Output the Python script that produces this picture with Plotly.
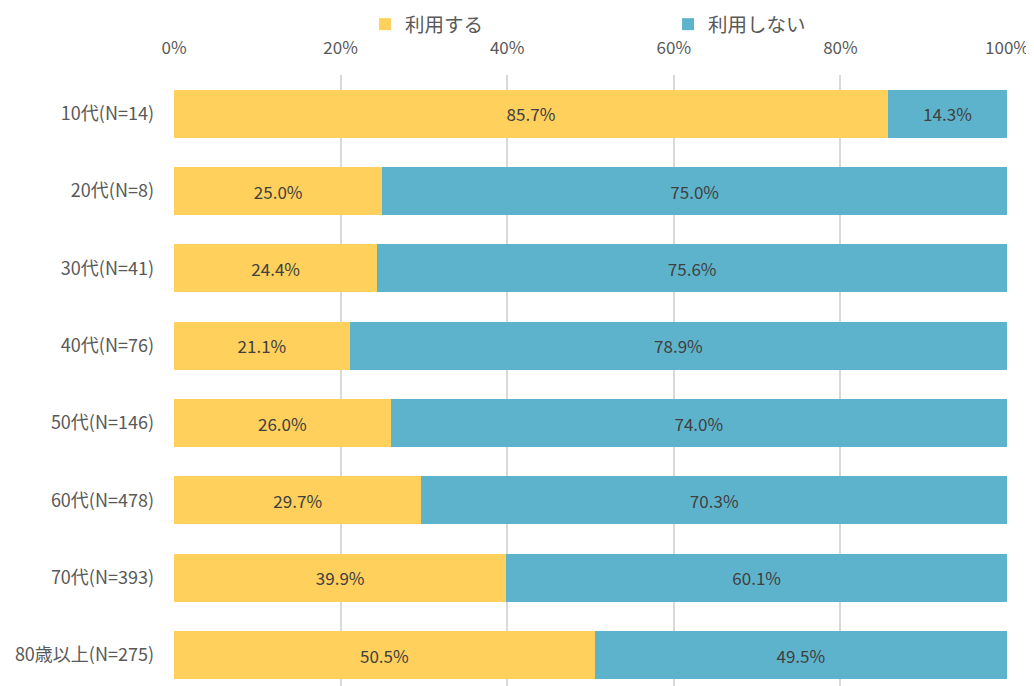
import plotly.graph_objects as go

categories = ["10代(N=14)", "20代(N=8)", "30代(N=41)", "40代(N=76)",
              "50代(N=146)", "60代(N=478)", "70代(N=393)", "80歳以上(N=275)"]
use = [85.7, 25.0, 24.4, 21.1, 26.0, 29.7, 39.9, 50.5]
not_use = [14.3, 75.0, 75.6, 78.9, 74.0, 70.3, 60.1, 49.5]
series_names = ["利用する", "利用しない"]
colors = ["#FFD05C", "#5EB3CC"]
tick_vals = [0, 20, 40, 60, 80, 100]
tick_text = ["0%", "20%", "40%", "60%", "80%", "100%"]

font_family = "Noto Sans CJK JP, Noto Sans, sans-serif"
text_color = "#595959"

fig = go.Figure()
for name, vals, col in zip(series_names, [use, not_use], colors):
    fig.add_trace(go.Bar(
        y=categories, x=vals, name=name, orientation="h",
        marker=dict(color=col, line=dict(width=0)),
        text=[f"{v:.1f}%" for v in vals],
        textposition="inside", insidetextanchor="middle",
        textfont=dict(color="#404040", size=17, family=font_family),
        hoverinfo="skip",
    ))

fig.update_layout(
    barmode="stack",
    bargap=0.38,
    width=1026, height=678,
    margin=dict(l=166, r=27, t=67, b=0, autoexpand=False),
    plot_bgcolor="white", paper_bgcolor="white",
    font=dict(family=font_family, color=text_color, size=17),
    showlegend=True,
    legend=dict(orientation="h", x=0.348, xanchor="left", xref="container",
                y=1.1146, yref="paper", yanchor="top",
                bgcolor="rgba(0,0,0,0)",
                font=dict(size=19.5, color=text_color),
                entrywidth=258, entrywidthmode="pixels",
                itemclick=False, traceorder="normal"),
    uniformtext=dict(minsize=10, mode="show"),
)
fig.update_xaxes(
    side="top", range=[0, 100], tickvals=tick_vals, ticktext=tick_text,
    showgrid=True, gridcolor="#D9D9D9", gridwidth=1.5, zeroline=False,
    showline=False, ticks="", tickfont=dict(size=17, color=text_color),
    ticklabelstandoff=17,
)
fig.update_yaxes(
    categoryorder="array", categoryarray=categories,
    range=[7.40, -0.5], showgrid=False, zeroline=False, showline=False,
    ticks="", tickfont=dict(size=18, color=text_color), ticklabelstandoff=19,
)

fig.write_html("out.html")
